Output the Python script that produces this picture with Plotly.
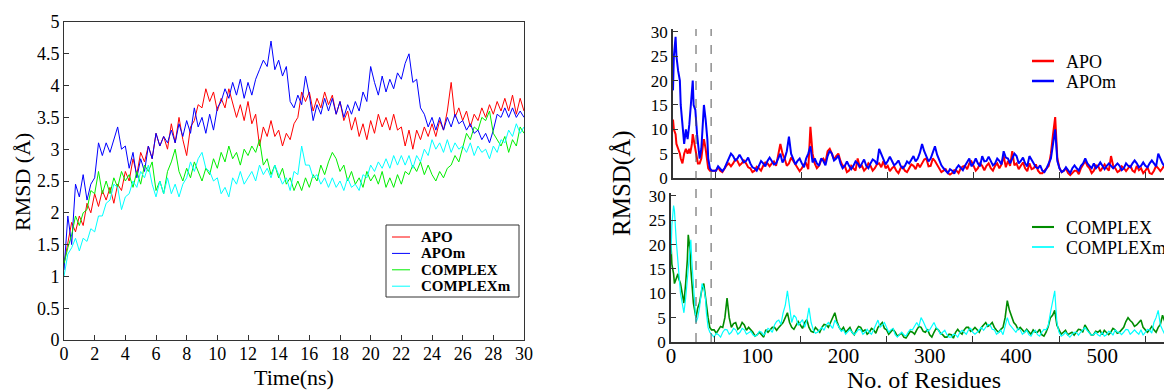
import plotly.graph_objects as go

# ---------------- Left panel: RMSD vs time ----------------
time_ns = [i * 0.25 for i in range(121)]

apo = [1.2,1.55,1.85,1.7,1.95,1.8,2.15,2.0,
       2.3,2.1,2.35,2.2,2.4,2.15,2.45,2.35,
       2.65,2.5,2.85,2.6,2.95,2.8,3.05,2.85,
       3.25,3.05,3.2,3.0,3.4,3.1,3.5,3.15,
       2.9,3.35,3.45,3.7,3.65,3.95,3.75,3.9,
       3.6,3.8,3.65,3.95,3.7,3.5,3.7,3.45,
       3.75,3.4,3.55,3.05,3.35,3.2,3.45,3.2,
       3.3,3.05,3.25,3.15,3.4,3.5,3.9,3.75,
       3.9,3.6,3.8,3.65,3.9,3.7,3.85,3.55,
       3.75,3.45,3.6,3.3,3.5,3.2,3.4,3.15,
       3.45,3.25,3.55,3.35,3.5,3.3,3.55,3.3,
       3.35,3.05,3.3,3.0,3.3,3.15,3.35,3.2,
       3.4,3.2,3.45,3.3,3.6,4.05,3.5,3.65,
       3.45,3.6,3.35,3.55,3.45,3.65,3.5,3.7,
       3.55,3.75,3.6,3.8,3.6,3.85,3.55,3.8,
       3.6]
apom = [1.1,1.95,1.5,2.45,2.25,2.6,2.2,2.45,
        2.55,3.1,2.9,3.1,2.95,3.15,3.35,3.0,
        3.05,2.7,2.95,2.55,2.85,2.65,3.05,2.85,
        3.25,3.05,3.2,3.1,3.3,3.1,3.4,3.2,
        3.45,3.25,3.65,3.35,3.5,3.25,3.55,3.3,
        3.65,3.75,3.95,3.8,4.05,3.85,4.1,3.8,
        4.05,3.85,4.1,4.25,4.4,4.3,4.7,4.25,
        4.4,4.15,4.3,3.75,3.65,3.85,3.7,4.15,
        3.85,3.45,3.7,3.55,3.8,3.6,3.8,3.55,
        3.75,3.5,3.7,3.55,3.75,3.6,3.9,3.75,
        4.3,4.05,3.85,4.15,3.9,4.1,3.95,4.2,
        4.1,4.35,4.5,4.05,4.1,3.65,3.55,3.35,
        3.5,3.3,3.5,3.3,3.5,3.35,3.55,3.4,
        3.45,3.3,3.4,3.25,3.3,3.15,3.25,3.1,
        3.3,3.55,3.5,3.65,3.5,3.65,3.5,3.6,
        3.5]
complex_ = [1.2,1.45,1.65,1.95,1.8,2.0,2.05,2.35,
            2.3,2.65,2.3,2.5,2.3,2.55,2.4,2.65,
            2.5,2.6,2.4,2.65,2.45,2.75,2.65,2.8,
            2.35,2.5,2.3,2.65,2.8,3.0,2.65,2.5,
            2.7,2.55,2.8,2.65,2.5,2.7,2.6,2.85,
            2.7,2.95,2.8,3.05,2.85,2.95,2.75,3.0,
            2.9,3.05,2.95,3.15,2.75,2.85,2.6,2.75,
            2.55,2.7,2.45,2.55,2.35,2.5,2.35,2.55,
            2.4,2.6,2.5,2.75,2.6,2.8,2.95,2.85,
            2.65,2.75,2.5,2.65,2.45,2.55,2.4,2.65,
            2.5,2.6,2.45,2.65,2.4,2.55,2.4,2.6,
            2.45,2.65,2.6,2.75,2.65,2.8,2.6,2.75,
            2.6,2.5,2.65,2.55,2.7,2.75,2.9,2.8,
            3.05,3.25,3.15,3.35,3.3,3.5,3.45,3.6,
            3.25,3.15,3.05,3.2,2.95,3.15,3.05,3.35,
            3.25]
complexm = [1.0,1.35,1.45,1.6,1.4,1.6,1.55,1.75,
            1.7,1.95,1.95,2.15,2.2,2.45,2.4,2.05,
            2.25,2.3,2.5,2.4,2.65,2.55,2.75,2.45,
            2.25,2.5,2.3,2.55,2.3,2.45,2.25,2.45,
            2.55,2.8,2.65,2.85,2.95,2.7,2.65,2.5,
            2.55,2.3,2.4,2.25,2.55,2.45,2.65,2.45,
            2.55,2.65,2.5,2.75,2.6,2.7,2.55,2.75,
            2.6,2.45,2.55,2.35,2.65,2.6,3.05,2.75,
            2.75,2.55,2.6,2.45,2.55,2.4,2.55,2.4,
            2.5,2.35,2.55,2.4,2.45,2.35,2.6,2.55,
            2.75,2.65,2.8,2.7,2.85,2.7,2.9,2.75,
            2.9,2.75,2.9,2.7,2.9,2.8,3.0,2.9,
            3.15,3.0,3.1,2.95,3.15,2.95,3.1,3.0,
            3.05,2.95,3.1,2.9,3.05,2.95,3.0,2.85,
            3.05,2.95,3.15,3.1,3.3,3.2,3.4,3.25,
            3.35]

# ---------------- Right panel: per-residue fluctuation ----------------
res_main = [0,1,3,4,6,8,9,11,13,15,17,19,20,22,23,24,26,28,29,31,33,35,36,38,40,41,43,45,47] \
           + list(range(50, 581, 5))
res_mid = [52.5 + 5 * i for i in range(106)]

apo_res = [12,10,9,7,6,5,4,3,5,6,5,6,5,7,9,8,6,4,3,3,4,7,8,6,3,2,1.5,1.5,1.5] + \
    [1.5,1.5,2,3,3,3.5,3,3,2,1.5,
     2,2.5,3,3,2.5,7,4,3,3.5,2,
     2,3,10.5,3,2.5,4,5.5,5,4.5,3.5,
     2.5,1.5,2,4,2.5,2,2.5,2,3,3.5,
     2.5,2,1.5,2,1.5,2,2.5,3,3,4,
     2.5,3.5,2,1.5,1,1,1.5,2,2.5,3,
     2.5,2,2.5,2.5,2,2.5,2,4.5,3.5,5.5,
     3,2.5,2,3,2,1.5,1,2,5,12.5,
     2,1.5,1,1,1.5,2,3.5,2,1.5,2.5,
     2,2,4.5,2,1.5,2,2,1.5,2.5,2,
     1.5,1,1.5,2,2,2.5,8.5]
apo_res_mid = [2.2,1.2,2.6,2.4,3.8,2.6,3.6,2.2,1.2,2.3,
               1.5,3.2,2.4,3.4,4.5,5,2.5,4.2,2.6,1.4,
               2.8,1.8,5,2,3.6,3.2,6,3.8,5,2.5,
               1.2,2.5,1.5,2.2,1.5,3,1.5,2.8,2.2,2,
               1.4,2.4,1,2.3,1.2,2.8,1.8,2.2,3.8,2.4,
               4,2.8,1.2,1.8,0.7,1.6,1,2.4,1.8,3.4,
               1.5,3,1.6,3,1.5,3,2.8,2.2,2.5,2.6,
               1.8,3.2,1.4,1.8,2.8,1,1.6,2.5,9,4,
               1.2,2,0.6,1.5,0.8,2.8,2.5,1,2.6,1.4,
               2.8,1.5,2.5,1.2,2.4,1.4,2.6,1.2,1.6,1,
               2.2,0.8,2.5,1.4,2.8,1.5]
apom_res = [18,25,29,25,22,20,15,10,7,10,8,11,13,17,20,15,14,9,7,4,6,12,15,12,8,4,2,1.5,1.5] + \
    [1.5,2,2,4,4.5,4,4,3.5,3,2,
     2.5,3,3.5,3.5,3,5,4,8.5,4,3.5,
     3,4,6.5,4,2.5,3.5,4.5,5,4,3,
     2.5,2.5,2.5,3,3,2.5,3,3.5,6,4,
     3.5,3.5,3,2.5,2.5,3,4.5,4,7,4.5,
     4,6.5,3.5,2,1,1.5,2,2,2.5,4,
     3,3,4.5,3.5,3.5,3,3.5,5.5,4,4,
     4.5,3.5,3,4.5,3,2,1.5,2,4,10,
     2,1.5,1.5,2,2,2.5,4,2.5,3,2.5,
     2.5,2.5,2.5,2.5,2.5,2,2.5,3,3,2.5,
     2.5,3,3,5,3,3,6]
apom_res_mid = [2.4,1.4,3,5,3.6,4.8,3.2,4.2,2.2,1.5,
                3.5,2.4,4.2,2.8,4.2,3.2,5.5,5,2.8,4,
                2.2,5,3.2,3,4,2.6,5.6,3.6,4.6,2,
                3.4,1.8,3.4,2.2,3.8,2,3.8,2.8,4.8,2.8,
                4.4,2.6,3.6,2,3.4,3.8,3.4,5.2,5.5,3.4,
                5.2,4.8,2.6,1.4,1.8,0.9,2.6,1.6,3.4,2.4,
                4,2.4,3.4,4.4,2.6,4,2.8,4.2,3,5,
                3,4.2,2.4,3.8,2.2,2.6,1.2,3,7,3.5,
                1.2,2.2,1,2.6,1.5,3,3,2,2,3.2,
                1.8,3,2,3,1.6,3,2.2,3.6,2.2,3.2,
                2.2,3.6,2.4,3.8,2.4,3.6]
complex_res = [20,16,14,12,13,14,13,12,10,8,12,17,22,19,15,12,8,6,5,7,8,10,11,12,9,7,5,3,2.5] + \
    [2.5,2.5,3,9,3,4,3,3.5,3,2,
     1.5,1.5,2.5,2.5,3,3,4,6,3,3.5,
     3.5,4,3,2,2.5,3,3.5,4,6,3,
     3,2.5,2,2.5,3,2.5,2,2.5,3,4,
     2.5,2,2,1.5,1,1.5,2,2.5,3,2,
     1.5,2,2.5,1.5,1,1.5,2,2,2.5,3,
     2.5,2.5,3,4,3.5,3,2,3,8.5,5,
     3.5,3,2,2,2.5,2,1.5,2,5,6.5,
     2.5,2,1.5,2,2,2.5,3.5,2,1.5,2,
     1.5,2,2,2.5,2,3,5,4,3.5,4.5,
     2.5,2.5,2.5,3,5.5,3,8]
complex_res_mid = [1.8,3.2,5,5,3.8,2.6,4,2.4,2.6,1.2,
                   2,1,2,3,2.4,3.6,5,4,2.6,4.2,
                   2.8,4.6,2.2,3,2,3.6,3,5,4.2,2.4,
                   2,3,1.5,3.2,2.2,1.6,2.8,1.8,3.6,2.8,
                   1.6,2.6,1.2,1.8,0.8,2.2,1.6,3.2,2.2,2.6,
                   1,2.8,1.8,1,1.6,0.8,2.6,1.6,3,2.2,
                   3,2,3.6,3.2,4,2.4,2.6,5,6.5,4,
                   2.6,2.4,2.6,1.6,2,2.6,1.2,3.2,5.5,3.5,
                   1.6,2.4,1.8,1.4,2.6,2,2.6,1.4,2.2,2.4,
                   2.4,1.5,2.8,1.8,2.6,4.2,4.4,3.2,4,3,
                   2,3.2,2,3.6,4,2.6]
complexm_res = [18,24,28,27,21,16,14,10,8,6,9,13,15,19,21,17,11,6,4,5,7,10,12,11,9,6,3,2,1.5] + \
    [1,1.5,2,2.5,2,2.5,2,2.5,2,1.5,
     1.5,2,2,2.5,3.5,4.5,6,10.5,4,5,
     4,3,7,2.5,2,3,3.5,3.5,4.5,3,
     2.5,2,2,2,2.5,2,2,2.5,4.5,3.5,
     3,2.5,1.5,1.5,1.5,2,2.5,4,5,3,
     2.5,4,2.5,2,1.5,1,1.5,2,2,2.5,
     2,2,3,3,3.5,2.5,2,1.5,5,3,
     2,2.5,2,1.5,2,1.5,2,2.5,6,10.5,
     2,1.5,1.5,1.5,2,2,3,2,1.5,1.5,
     2,1.5,2,2.5,2,2,2.5,2,2,2.5,
     2,2.5,4,6.5,2.5,2,4]
complexm_res_mid = [1.8,1,2.6,1.6,2.8,1.6,2.8,1.6,2.2,1.2,
                    2.2,1.4,2.8,2,4.2,3.6,7.5,7,5.5,3.4,
                    4.6,4.4,4,1.8,2.6,2.4,4,2.8,3.6,2.2,
                    1.6,2.6,1.5,2.6,1.6,2.6,1.6,3.4,3,4,
                    2,2.8,1,2,1.2,2.6,3.2,3.2,4.2,2.2,
                    3.4,3,1.6,2.4,1,1.6,1,2.4,1.6,2.8,
                    1.6,2.6,2.4,3.6,2.6,1.6,2.4,3,3.6,2.4,
                    2.8,1.6,2.4,1.2,2.4,1.2,2.6,3.4,8,4,
                    1.2,2,1,2,1.4,2.6,2.4,1.4,2,1.2,
                    1.2,2.2,1.4,2,1.5,2.6,1.6,2.5,1.6,1.4,
                    2.6,1.8,5,3.5,1.6,2.5]

domain_marks = [29, 46.5]   # dashed lines (residue numbers)


def merge(xa, ya, xb, yb):
    pts = sorted(list(zip(xa, ya)) + list(zip(xb, yb)))
    return [p[0] for p in pts], [p[1] for p in pts]


SERIF = "Liberation Serif"
AX = "#333333"
OFF = 8                    # page body margin of the html page
W, H = 1172 - OFF, 392 - OFF


def px(x):
    return (x - OFF) / W


def py(y):
    return 1 - (y - OFF) / H


left_series = [("APO", apo, "#ff0000"), ("APOm", apom, "#0000ff"),
               ("COMPLEX", complex_, "#00ee00"), ("COMPLEXm", complexm, "#00ffff")]
top_series = [("APO", apo_res, apo_res_mid, "#ff0000", 2.0),
              ("APOm", apom_res, apom_res_mid, "#0000ff", 2.0)]
bot_series = [("COMPLEX", complex_res, complex_res_mid, "#008c00", 1.6),
              ("COMPLEXm", complexm_res, complexm_res_mid, "#00ffff", 1.2)]

fig = go.Figure()
for name, vals, col in left_series:
    fig.add_trace(go.Scatter(x=time_ns, y=vals, mode="lines", name=name, showlegend=False,
                             line=dict(color=col, width=1), xaxis="x", yaxis="y"))
for (ax, ay), series in [(("x2", "y2"), top_series), (("x3", "y3"), bot_series)]:
    for name, vals, mids, col, w in series:
        xs, ys = merge(res_main, vals, res_mid, mids)
        fig.add_trace(go.Scatter(x=xs, y=ys, mode="lines", name=name, showlegend=False,
                                 line=dict(color=col, width=w), xaxis=ax, yaxis=ay))

shapes, annotations = [], []
for r in domain_marks:
    shapes.append(dict(type="line", xref="x3", yref="paper", x0=r, x1=r,
                       y0=py(342), y1=py(29),
                       line=dict(color="#555555", width=1, dash="dash")))

# ---- legends (drawn as layout items) ----
shapes.append(dict(type="rect", xref="paper", yref="paper", x0=px(386), x1=px(519),
                   y0=py(297), y1=py(225), line=dict(color="#333333", width=1),
                   fillcolor="white", layer="above"))
for i, (name, vals, col) in enumerate(left_series):
    yy = 237 + i * 16.4
    shapes.append(dict(type="line", xref="paper", yref="paper", x0=px(392), x1=px(410),
                       y0=py(yy), y1=py(yy), line=dict(color=col, width=1), layer="above"))
    annotations.append(dict(text=name, xref="paper", yref="paper", x=px(419), y=py(yy),
                            xanchor="left", yanchor="middle", showarrow=False,
                            font=dict(family=SERIF, size=15, color="black", weight="bold")))
for base, series in [(61, top_series), (227, bot_series)]:
    for i, (name, vals, mids, col, w) in enumerate(series):
        yy = base + i * 20
        shapes.append(dict(type="line", xref="paper", yref="paper", x0=px(1032), x1=px(1054),
                           y0=py(yy), y1=py(yy), line=dict(color=col, width=w + 0.5),
                           layer="above"))
        annotations.append(dict(text=name, xref="paper", yref="paper", x=px(1064), y=py(yy + 1),
                                xanchor="left", yanchor="middle", showarrow=False,
                                font=dict(family=SERIF, size=18, color="black")))

annotations += [
    dict(text="RMSD (Å)", xref="paper", yref="paper", x=px(22), y=py(182),
         xanchor="center", yanchor="middle",
         textangle=-90, showarrow=False, font=dict(family=SERIF, size=22, color="black")),
    dict(text="Time(ns)", xref="paper", yref="paper", x=px(294), y=py(377),
         xanchor="center", yanchor="middle",
         showarrow=False, font=dict(family=SERIF, size=22, color="black")),
    dict(text="RMSD(Å)", xref="paper", yref="paper", x=px(622), y=py(183),
         xanchor="center", yanchor="middle",
         textangle=-90, showarrow=False, font=dict(family=SERIF, size=25, color="black")),
    dict(text="No. of Residues", xref="paper", yref="paper", x=px(924), y=py(380),
         xanchor="center", yanchor="middle",
         showarrow=False, font=dict(family=SERIF, size=24, color="black")),
]

tickfont_l = dict(family=SERIF, size=18, color="black")
tickfont_r = dict(family=SERIF, size=17, color="black")
common = dict(showgrid=False, zeroline=False, automargin=False)

fig.update_layout(
    width=W, height=H,
    margin=dict(l=0, r=0, t=0, b=0, autoexpand=False),
    paper_bgcolor="white", plot_bgcolor="white",
    showlegend=False,
    xaxis=dict(domain=[px(64), px(524)], range=[0, 30], tickmode="array",
               tickvals=list(range(0, 31, 2)), ticks="inside", ticklen=5, tickcolor=AX,
               showline=True, linecolor=AX, linewidth=1, mirror=True,
               ticklabelstandoff=-3,
               tickfont=tickfont_l, anchor="y", **common),
    yaxis=dict(domain=[py(340), py(22)], range=[0, 5], dtick=0.5,
               ticks="inside", ticklen=5, tickcolor=AX, showline=True, linecolor=AX,
               linewidth=1, mirror=True, tickfont=tickfont_l, anchor="x", **common),
    xaxis2=dict(domain=[px(673), 1], range=[0, 581], showticklabels=False,
                tickmode="array", tickvals=[50, 150, 250, 350, 450, 550], ticks="inside",
                ticklen=6, tickcolor=AX, showline=True, linecolor=AX, linewidth=1.5,
                anchor="y2", **common),
    yaxis2=dict(domain=[py(178), py(29)], range=[0, 30.6], tickmode="array",
                tickvals=[0, 5, 10, 15, 20, 25, 30], ticks="inside", ticklen=5, tickcolor=AX,
                showline=True, linecolor=AX, linewidth=1.5,
                tickfont=tickfont_r, anchor="x2", **common),
    xaxis3=dict(domain=[px(671), 1], range=[0, 581], tickmode="array",
                tickvals=[0, 100, 200, 300, 400, 500], ticks="", showline=True,
                linecolor=AX, linewidth=1.5, ticklabelstandoff=-6,
                tickfont=dict(family=SERIF, size=21, color="black"), anchor="y3",
                minor=dict(tickmode="array", tickvals=[50, 150, 250, 350, 450, 550],
                           ticks="inside", ticklen=6, tickcolor=AX, showgrid=False),
                **common),
    yaxis3=dict(domain=[py(342), py(193)], range=[0, 30.6], tickmode="array",
                tickvals=[0, 5, 10, 15, 20, 25, 30], ticks="inside", ticklen=5, tickcolor=AX,
                showline=True, linecolor=AX, linewidth=1.5,
                tickfont=tickfont_r, anchor="x3", **common),
    shapes=shapes,
    annotations=annotations,
)

fig.write_html("out.html")
